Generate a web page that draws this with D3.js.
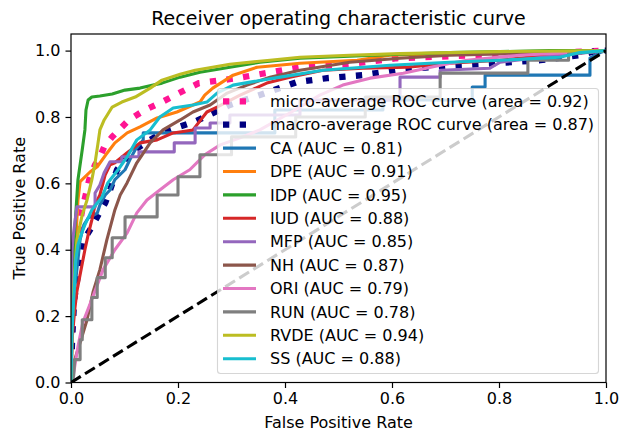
<!DOCTYPE html>
<html>
<head>
<meta charset="utf-8">
<title>ROC</title>
<script src="https://cdnjs.cloudflare.com/ajax/libs/d3/7.8.5/d3.min.js"></script>
<style>
	body { margin: 0; background: #fff; }
	text { font-family: "DejaVu Sans", sans-serif; }
</style>
</head>
<body>
<script>
// ROC curves, [fpr, tpr] points
var microAvg = [[0,0],[.002,.159],[.006,.31],[.011,.43],[.021,.52],[.034,.611],[.045,.656],[.052,.671],[.062,.710],[.077,.740],[.108,.791],[.138,.821],[.170,.845],[.202,.872],[.239,.902],[.284,.911],[.321,.920],[.428,.950],[.535,.962],[.609,.977],[.708,.983],[.802,.989],[.914,.994],[1,1]];
var macroAvg = [[0,0],[.002,.129],[.006,.25],[.013,.325],[.017,.376],[.022,.424],[.039,.469],[.054,.514],[.064,.541],[.073,.580],[.086,.641],[.101,.671],[.110,.692],[.125,.707],[.148,.731],[.174,.755],[.202,.770],[.230,.785],[.250,.800],[.297,.836],[.353,.866],[.422,.905],[.479,.917],[.546,.926],[.606,.941],[.671,.950],[.727,.956],[.796,.962],[.877,.971],[.951,.986],[.983,1],[1,1]];

var classes = ['CA', 'DPE', 'IDP', 'IUD', 'MFP', 'NH', 'ORI', 'RUN', 'RVDE', 'SS'];
var aucs = [0.81, 0.91, 0.95, 0.88, 0.85, 0.87, 0.79, 0.78, 0.94, 0.88];
var microArea = 0.92, macroArea = 0.87;

var rocCA = [[0,0],[0,.13],[.004,.25],[.009,.31],[.013,.37],[.017,.43],[.024,.475],[.032,.495],[.049,.51],[.054,.535],[.064,.565],[.073,.58],[.082,.611],[.101,.641],[.110,.671],[.120,.701],[.135,.731],[.135,.752],[.381,.752],[.381,.821],[.583,.821],[.583,.851],[.750,.851],[.750,.890],[.774,.890],[.774,.926],[.970,.926],[.970,.977],[.989,.994],[1,1]];
var rocDPE = [[0,0],[.002,.159],[.006,.340],[.009,.430],[.013,.550],[.017,.605],[.036,.635],[.049,.650],[.065,.686],[.082,.722],[.105,.752],[.129,.770],[.161,.797],[.198,.815],[.241,.845],[.250,.866],[.265,.887],[.303,.926],[.348,.950],[.428,.962],[.535,.971],[.596,.986],[.708,.991],[.839,.994],[.951,1],[1,1]];
var rocIDP = [[0,0],[.002,.159],[.004,.31],[.007,.46],[.013,.611],[.021,.701],[.026,.761],[.028,.821],[.032,.851],[.039,.86],[.054,.863],[.077,.869],[.101,.881],[.129,.887],[.170,.902],[.204,.920],[.241,.935],[.297,.950],[.353,.965],[.428,.977],[.521,.983],[.615,.989],[.708,.994],[.802,.997],[.895,1],[1,1]];
var rocIUD = [[0,0],[.002,.129],[.007,.220],[.011,.274],[.017,.325],[.026,.400],[.032,.445],[.039,.490],[.045,.535],[.054,.565],[.064,.626],[.073,.656],[.082,.662],[.105,.692],[.129,.722],[.161,.731],[.191,.752],[.228,.761],[.254,.815],[.273,.830],[.316,.866],[.366,.902],[.409,.920],[.471,.941],[.546,.947],[.628,.950],[.708,.962],[.802,.971],[.895,.986],[1,1]];
var rocMFP = [[0,0],[0,.25],[.002,.40],[.004,.439],[.009,.505],[.011,.529],[.045,.529],[.045,.571],[.054,.595],[.062,.632],[.073,.665],[.095,.665],[.095,.680],[.127,.680],[.127,.695],[.193,.695],[.193,.722],[.232,.722],[.232,.767],[.260,.767],[.260,.782],[.297,.782],[.297,.806],[.428,.806],[.428,.851],[.615,.851],[.615,.920],[.690,.920],[.690,.941],[.783,.947],[.802,.965],[.914,.986],[1,1]];
var rocNH = [[0,0],[.004,.039],[.007,.069],[.017,.120],[.030,.189],[.041,.271],[.054,.340],[.067,.430],[.082,.520],[.092,.565],[.105,.602],[.123,.662],[.148,.722],[.172,.761],[.204,.791],[.228,.815],[.260,.836],[.292,.872],[.329,.896],[.372,.920],[.428,.941],[.521,.965],[.615,.977],[.708,.986],[.839,.991],[1,1]];
var rocORI = [[0,0],[.004,.018],[.009,.069],[.013,.108],[.022,.180],[.041,.259],[.060,.340],[.082,.400],[.105,.451],[.123,.511],[.142,.550],[.166,.580],[.191,.611],[.222,.641],[.250,.686],[.279,.716],[.316,.737],[.353,.761],[.409,.812],[.465,.866],[.508,.896],[.559,.917],[.621,.932],[.690,.956],[.740,.971],[.839,.986],[1,1]];
var rocRUN = [[0,0],[.005,.02],[.007,.069],[.017,.069],[.017,.129],[.021,.129],[.021,.189],[.039,.189],[.039,.256],[.049,.256],[.049,.316],[.064,.316],[.064,.376],[.077,.376],[.077,.436],[.101,.436],[.101,.499],[.161,.499],[.161,.565],[.200,.565],[.200,.620],[.241,.620],[.241,.686],[.30,.686],[.30,.74],[.42,.74],[.42,.80],[.55,.80],[.55,.86],[.69,.86],[.69,.932],[.854,.932],[.854,.971],[.93,.971],[.93,.99],[1,1]];
var rocRVDE = [[0,0],[.002,.159],[.006,.31],[.011,.43],[.021,.505],[.030,.55],[.039,.611],[.045,.662],[.050,.716],[.054,.761],[.062,.791],[.077,.830],[.095,.845],[.120,.860],[.148,.887],[.170,.911],[.204,.929],[.232,.941],[.297,.959],[.372,.971],[.428,.980],[.521,.986],[.615,.991],[.802,.997],[1,1]];
var rocSS = [[0,0],[.002,.159],[.006,.280],[.009,.370],[.013,.415],[.021,.454],[.026,.475],[.039,.520],[.058,.559],[.069,.602],[.088,.641],[.105,.680],[.123,.731],[.148,.761],[.166,.800],[.191,.827],[.228,.836],[.254,.845],[.273,.872],[.303,.896],[.335,.905],[.391,.920],[.471,.941],[.596,.956],[.708,.965],[.802,.971],[.914,.980],[.951,.994],[1,1]];

var classCurves = [rocCA, rocDPE, rocIDP, rocIUD, rocMFP, rocNH, rocORI, rocRUN, rocRVDE, rocSS];
var colors = ['#1f77b4', '#ff7f0e', '#2ca02c', '#d62728', '#9467bd', '#8c564b', '#e377c2', '#7f7f7f', '#bcbd22', '#17becf'];
var xTicks = [0, 0.2, 0.4, 0.6, 0.8, 1.0];
var yTicks = [0, 0.2, 0.4, 0.6, 0.8, 1.0];

var W = 619, H = 431;
var mLeft = 71, mRight = 606, mTop = 34, mBottom = 382.5;
var lw = 3.1, lwAvg = 6.3;

var svg = d3.select('body').append('svg')
	.attr('width', W)
	.attr('height', H);

var x = d3.scaleLinear().domain([0, 1]).range([mLeft, mRight]);
var y = d3.scaleLinear().domain([0, 1.05]).range([mBottom, mTop]);

svg.append('clipPath').attr('id', 'clip')
	.append('rect')
	.attr('x', mLeft).attr('y', mTop)
	.attr('width', mRight - mLeft).attr('height', mBottom - mTop);

var line = d3.line()
	.x(function(d) { return x(d[0]); })
	.y(function(d) { return y(d[1]); });

var plot = svg.append('g').attr('clip-path', 'url(#clip)');

// averages: dotted, thick
plot.append('path')
	.attr('d', line(microAvg))
	.attr('fill', 'none')
	.attr('stroke', 'deeppink')
	.attr('stroke-width', lwAvg)
	.attr('stroke-dasharray', '6.3 10.4');
plot.append('path')
	.attr('d', line(macroAvg))
	.attr('fill', 'none')
	.attr('stroke', 'navy')
	.attr('stroke-width', lwAvg)
	.attr('stroke-dasharray', '6.3 10.4');

plot.selectAll('.roc')
	.data(classCurves)
	.enter()
	.append('path')
	.attr('class', 'roc')
	.attr('d', line)
	.attr('fill', 'none')
	.attr('stroke', function(d, i) { return colors[i]; })
	.attr('stroke-width', lw)
	.attr('stroke-linejoin', 'round');

plot.append('path')
	.attr('d', line([[0, 0], [1, 1]]))
	.attr('stroke', '#000')
	.attr('stroke-width', lw)
	.attr('stroke-dasharray', '11.5 5');

// axes
var xAxis = svg.append('g')
	.attr('transform', 'translate(0,' + mBottom + ')')
	.call(d3.axisBottom(x).tickValues(xTicks).tickFormat(d3.format('.1f')).tickSize(5.5).tickPadding(5));
var yAxis = svg.append('g')
	.attr('transform', 'translate(' + mLeft + ',0)')
	.call(d3.axisLeft(y).tickValues(yTicks).tickFormat(d3.format('.1f')).tickSize(5.5).tickPadding(5));

[xAxis, yAxis].forEach(function(a) {
	a.select('.domain').remove();
	a.selectAll('line').attr('stroke', '#000').attr('stroke-width', 1.2);
	a.selectAll('text').attr('font-size', '16px').attr('fill', '#000')
		.style('font-family', '"DejaVu Sans", sans-serif');
});

svg.append('rect')
	.attr('x', mLeft).attr('y', mTop)
	.attr('width', mRight - mLeft).attr('height', mBottom - mTop)
	.attr('fill', 'none')
	.attr('stroke', '#000')
	.attr('stroke-width', 1.2);

svg.append('text')
	.attr('x', (mLeft + mRight) / 2).attr('y', 25)
	.attr('text-anchor', 'middle')
	.attr('font-size', '19px')
	.text('Receiver operating characteristic curve');

svg.append('text')
	.attr('x', (mLeft + mRight) / 2).attr('y', 428)
	.attr('text-anchor', 'middle')
	.attr('font-size', '16px')
	.text('False Positive Rate');

svg.append('text')
	.attr('transform', 'translate(25,' + ((mTop + mBottom) / 2) + ') rotate(-90)')
	.attr('text-anchor', 'middle')
	.attr('font-size', '16px')
	.text('True Positive Rate');

// legend
var legendItems = [
	{ label: 'micro-average ROC curve (area = ' + microArea.toFixed(2) + ')', color: 'deeppink', dotted: true },
	{ label: 'macro-average ROC curve (area = ' + macroArea.toFixed(2) + ')', color: 'navy', dotted: true }
];
classes.forEach(function(c, i) {
	legendItems.push({ label: c + ' (AUC = ' + aucs[i].toFixed(2) + ')', color: colors[i], dotted: false });
});

var lg = svg.append('g');
lg.append('rect')
	.attr('x', 217.5).attr('y', 88.5)
	.attr('width', 381).attr('height', 285)
	.attr('rx', 3).attr('ry', 3)
	.attr('fill', '#fff').attr('fill-opacity', 0.8)
	.attr('stroke', '#ccc').attr('stroke-opacity', 0.8)
	.attr('stroke-width', 1.1);

var rows = lg.selectAll('.item')
	.data(legendItems)
	.enter()
	.append('g')
	.attr('transform', function(d, i) { return 'translate(0,' + (101.3 + i * 23.4) + ')'; });

rows.append('line')
	.attr('x1', 223).attr('x2', 256)
	.attr('stroke', function(d) { return d.color; })
	.attr('stroke-width', function(d) { return d.dotted ? lwAvg : lw; })
	.attr('stroke-dasharray', function(d) { return d.dotted ? '6.3 10.4' : null; });

rows.append('text')
	.attr('x', 270)
	.attr('dy', '0.35em')
	.attr('font-size', '16px')
	.text(function(d) { return d.label; });
</script>
</body>
</html>
